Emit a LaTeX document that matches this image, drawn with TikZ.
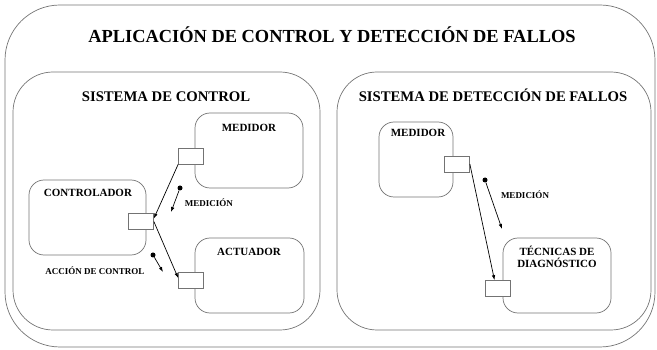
\documentclass[tikz,border=0pt]{standalone}
\usepackage{fontspec}
\setmainfont{Liberation Serif}
\usetikzlibrary{arrows.meta, positioning}
\definecolor{framegray}{RGB}{115,115,115}
\tikzset{
  appframe/.style={draw=framegray, line width=0.7pt, rounded corners=55pt, inner sep=0pt},
  sysframe/.style={draw=framegray, line width=0.7pt, rounded corners=40pt, inner sep=0pt},
  block/.style={draw=framegray, line width=0.7pt, rounded corners=15pt, inner sep=0pt,
                minimum height=75pt},
  port/.style={draw=framegray, fill=white, line width=0.7pt, inner sep=0pt,
               minimum width=25pt, minimum height=16pt},
  signal/.style={circle, fill=black, inner sep=0pt, minimum size=5pt},
  flow/.style={-{Latex[length=5pt,width=3.5pt]}, line width=0.7pt},
  bigtitle/.style={anchor=base, font=\fontsize{18.4}{20}\selectfont\bfseries},
  systitle/.style={anchor=base, font=\fontsize{14.7}{16}\selectfont\bfseries},
  blocktitle/.style={anchor=base, font=\fontsize{11}{12.5}\selectfont\bfseries, align=center},
  sigtitle/.style={anchor=base, font=\fontsize{9}{10}\selectfont\bfseries}
}
\begin{document}
\begin{tikzpicture}[x=1pt, y=-1pt]
    \useasboundingbox (0,0) rectangle (657,350);

    % Application
    \node[appframe, minimum width=650pt, minimum height=342pt] (app) at (330,176) {};
    \node[bigtitle] (apptitle) at (332,43) {APLICACIÓN DE CONTROL Y DETECCIÓN DE FALLOS};

    % Control system
    \node[sysframe, minimum width=307pt, minimum height=258pt] (ctrlsys) at (166.5,201) {};
    \node[systitle] (ctrltitle) at (166,102) {SISTEMA DE CONTROL};

    \node[block, minimum width=108pt] (medA) at (249,150.5) {};
    \node[blocktitle] (medAtitle) at (249,132) {MEDIDOR};
    \node[block, minimum width=117pt] (ctrl) at (87.5,217.5) {};
    \node[blocktitle] (ctrltext) at (88,197) {CONTROLADOR};
    \node[block, minimum width=109pt] (act) at (249.5,275.5) {};
    \node[blocktitle] (acttext) at (249,256) {ACTUADOR};

    \node[port] (medAport) at (191,156) {};
    \node[port] (ctrlport) at (141,221.5) {};
    \node[port] (actport) at (191,280) {};

    % Arrows
    \draw[flow] (medAport.south west) -- ([yshift=3pt]ctrlport.east);
    \draw[flow] (ctrlport.east) -- ([yshift=2pt]actport.west);

    \node[signal] (measA) at (180,188) {};
    \coordinate (measAend) at (171,212);
    \draw[flow] (measA) -- (measAend);
    \node[sigtitle] (measAtext) at (209,207) {MEDICIÓN};

    \node[signal] (actsig) at (153,255) {};
    \coordinate (actsigend) at (163,272);
    \draw[flow] (actsig) -- (actsigend);
    \node[sigtitle] (actsigtext) at (95,275) {ACCIÓN DE CONTROL};

    % Fault detection system
    \node[sysframe, minimum width=314pt, minimum height=258pt] (fdsys) at (494,201) {};
    \node[systitle] (fdtitle) at (493,102) {SISTEMA DE DETECCIÓN DE FALLOS};

    \node[block, minimum width=74pt] (medB) at (416,159.5) {};
    \node[blocktitle] (medBtitle) at (418,137) {MEDIDOR};
    \node[block, minimum width=108pt] (diag) at (557,275.5) {};
    \node[blocktitle] (diagtext) at (557,268) {TÉCNICAS DE\\DIAGNÓSTICO};

    \node[port] (medBport) at (457,164) {};
    \node[port] (diagport) at (497.5,288.5) {};

    \draw[flow] (medBport.east) -- ([xshift=-3pt]diagport.north);

    \node[signal] (measB) at (485,180) {};
    \coordinate (measBend) at (502,229);
    \draw[flow] (measB) -- (measBend);
    \node[sigtitle] (measBtext) at (525,199) {MEDICIÓN};
\end{tikzpicture}
\end{document}
